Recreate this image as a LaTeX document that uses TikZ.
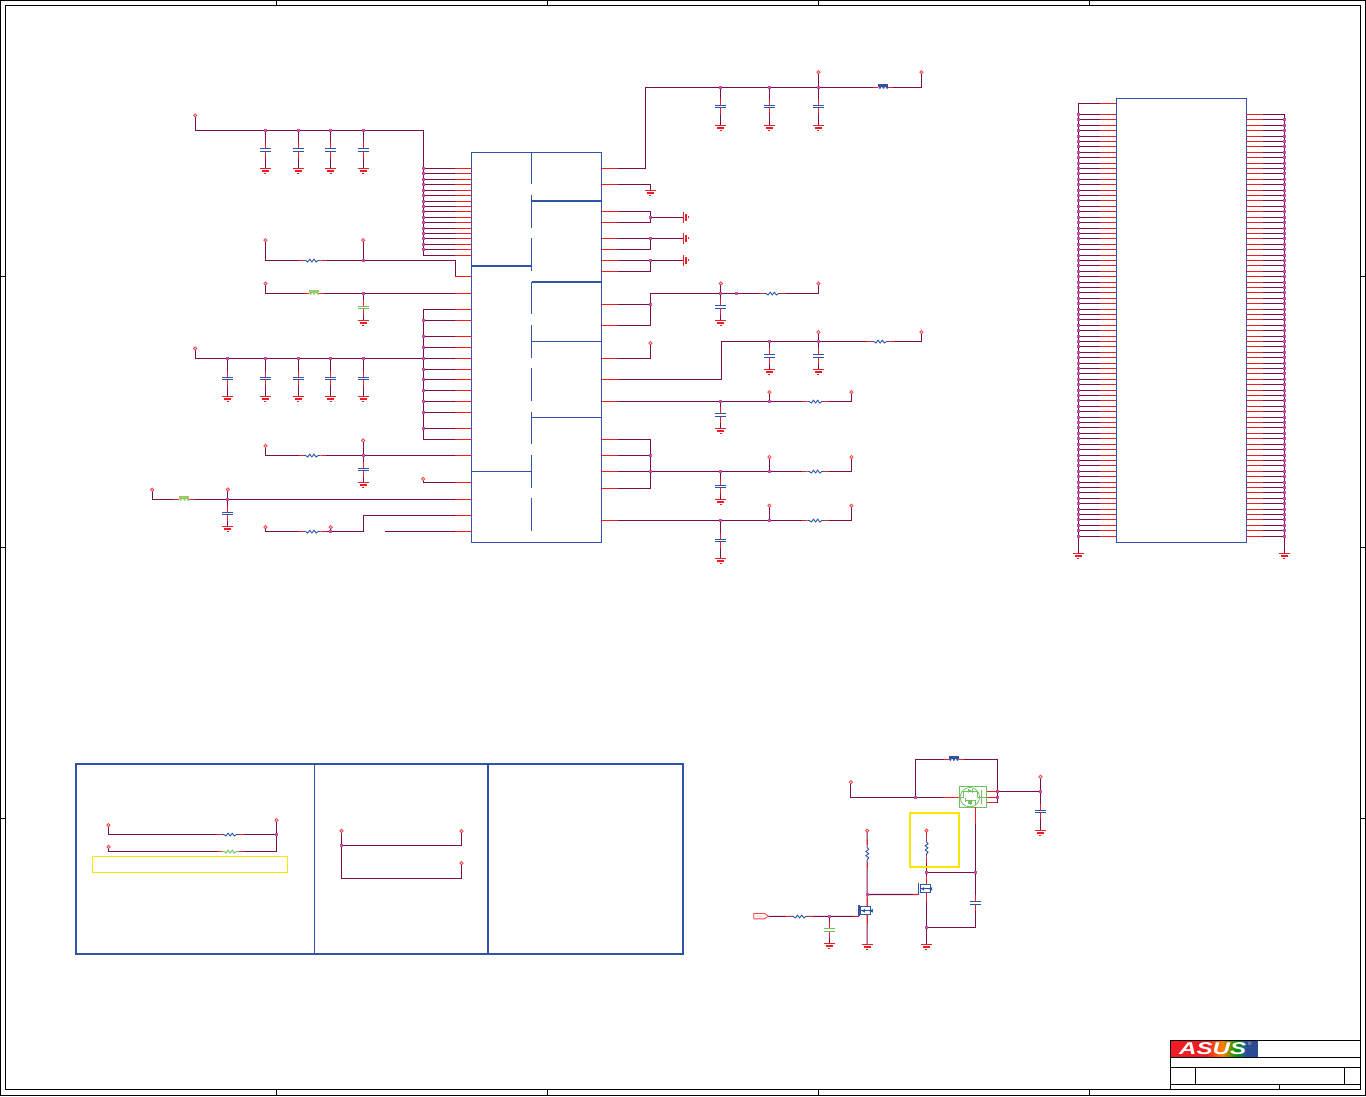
\documentclass[tikz,border=0pt]{standalone}
\usepackage{fontspec}
\setmainfont{Liberation Sans}
\definecolor{wirec}{HTML}{7A1048}
\definecolor{pinc}{HTML}{F01C24}
\definecolor{jctc}{HTML}{C050A8}
\definecolor{icblue}{HTML}{3053A5}
\definecolor{cgreen}{HTML}{70C060}
\definecolor{bgreen}{HTML}{98CC68}
\definecolor{myyellow}{HTML}{F8E800}
\tikzset{
 wire/.style={draw=wirec,line width=1.05pt},
 pinw/.style={draw=pinc,line width=1.2pt},
 comp/.style={inner sep=0pt,outer sep=0pt,minimum size=0pt,shape=rectangle},
 jct/.style={comp,fill=jctc,minimum size=3pt},
 portn/.style={circle,inner sep=0pt,outer sep=0pt,minimum size=3.4pt,draw=pinc!85,fill=pinc!20,line width=.7pt},
 ic/.style={comp,draw=icblue,line width=1pt},
 plate/.style={line width=1.35pt},
 frameline/.style={draw=black,line width=1pt},
 gndbar/.style={draw=pinc},
}
\newif\iffgpass
\newcommand\fgonly[1]{\iffgpass #1\fi}
\newcommand\mkJ[3]{\coordinate (#1) at (#2,#3);\fgonly{\node[jct] (#1-dot) at (#1) {};}}
\newcommand\mkP[3]{\coordinate (#1) at (#2,#3);\fgonly{\node[portn] (#1-dot) at (#1) {};}}
\newcommand\mkG[3]{\node[comp] (#1) at (#2,#3) {};\fgonly{
 \pgfmathsetmacro\gy{floor(#3)+.33}
 \draw[gndbar,line width=1.8pt] (#2-5.5,\gy) -- (#2+5.5,\gy);
 \draw[gndbar,line width=1.35pt] (#2-3.5,\gy+2.4) -- (#2+3.5,\gy+2.4);
 \draw[gndbar,line width=1.3pt] (#2-1,\gy+5) -- (#2+1,\gy+5);}}
\newcommand\mkGr[3]{\node[comp] (#1) at (#2,#3) {};\fgonly{
 \pgfmathsetmacro\gx{floor(#2)+.33}
 \draw[gndbar,line width=1.8pt] (\gx,#3-5.5) -- (\gx,#3+5.5);
 \draw[gndbar,line width=1.35pt] (\gx+2.6,#3-3.5) -- (\gx+2.6,#3+3.5);
 \draw[gndbar,line width=1.3pt] (\gx+5,#3-1) -- (\gx+5,#3+1);}}
% horizontal resistor: name x y colour
\newcommand\mkR[4]{\node[comp,minimum width=17pt] (#1) at (#2,#3) {};\fgonly{
 \draw[pinw] (#1.west) -- ++(-5,0) (#1.east) -- ++(5,0);
 \draw[#4,line width=.9pt,line join=round] (#1.west) -- ++(2,0) -- ++(2,1.6) -- ++(2.1,-3) -- ++(2.1,3) -- ++(2.1,-3) -- ++(2.1,3) -- ++(2.1,-1.6) -- (#1.east);}}
\newcommand\mkRv[4]{\node[comp,minimum height=17pt] (#1) at (#2,#3) {};\fgonly{
 \draw[pinw] (#1.north) -- ++(0,-6) (#1.south) -- ++(0,6);
 \draw[#4,line width=.9pt,line join=round] (#1.north) -- ++(0,2) -- ++(1.6,2) -- ++(-3,2.1) -- ++(3,2.1) -- ++(-3,2.1) -- ++(3,2.1) -- ++(-1.6,2.1) -- (#1.south);}}
% bead: name x y colour
\newcommand\mkB[4]{\node[comp,minimum width=10pt] (#1) at (#2,#3) {};\fgonly{
 \draw[pinw] (#1.west) -- ++(-5,0) (#1.east) -- ++(5,0);
 \fill[#4] (#2-5,#3-3) rectangle (#2+5,#3-.8);
 \foreach \d in {-3.6,0,3.6}{\fill[#4] (#2+\d,#3+.2) circle (1.3pt);}
 }}
% capacitor: name x y colour
\newcommand\mkC[4]{\node[comp,minimum width=11pt,minimum height=3pt] (#1) at (#2,#3) {};\fgonly{
 \pgfmathsetmacro\ct{round(#3-1.5)+.33}
 \pgfmathsetmacro\cb{round(#3+1)+.33}
 \draw[pinw] (#2,\ct) -- ++(0,-7) (#2,\cb) -- ++(0,6.5);
 \draw[#4,plate] (#2-5.5,\ct) -- (#2+5.5,\ct) (#2-5.5,\cb) -- (#2+5.5,\cb);}}
% capacitor to ground: name, from, x, ycentre, yground, colour
\newcommand\capgnd[6]{\mkC{#1}{#3}{#4}{#6}\mkG{#1g}{#3}{#5}\draw[wire] (#2) -- (#1.north) (#1.south) -- (#1g.center);}
\newcommand\mkPL[2]{\coordinate (#1) at (471.5,#2);\fgonly{\draw[pinw] (#1) -- ++(-16.5,0);}}
\newcommand\mkPR[2]{\coordinate (#1) at (601.3,#2);\fgonly{\draw[pinw] (#1) -- ++(16.5,0);}}
% MOSFET: name, x of gate bar, y of middle
\newcommand\mkQ[3]{\node[comp] (#1) at (#2,#3) {};\coordinate (#1g) at (#2,#3+5.6);\coordinate (#1d) at (#2+8.3,#3-4);\coordinate (#1s) at (#2+8.3,#3+4);
 \fgonly{
 \draw[pinw] (#1g) -- ++(-5,0) (#1d) -- ++(0,-9) (#1s) -- ++(0,9);
 \draw[icblue,line width=1.3pt] (#2,#3-5.5) -- (#2,#3+5.7);
 \draw[icblue,line width=.9pt] (#2+2,#3-4.6) -- (#2+2,#3+4.6);
 \draw[icblue,line width=.9pt] (#2+2,#3-4) -- (#2+12,#3-4) -- (#2+12,#3+4) -- (#2+2,#3+4) (#2+2,#3) -- (#2+12,#3);
 \fill[icblue] (#2+3,#3) -- (#2+6,#3-1.8) -- (#2+6,#3+1.8) -- cycle;
 \fill[icblue] (#2+10,#3) -- (#2+14,#3-1.8) -- (#2+14,#3+1.8) -- cycle;
 }}
\newcommand\schematic{%
% frame, title block, logo, IC bodies
\fgonly{
\node[comp,frameline,draw,minimum width=1365pt,minimum height=1095pt] (outerframe) at (683,548) {};
\node[comp,frameline,draw,minimum width=1355.4pt,minimum height=1083.8pt] (innerframe) at (683,547.4) {};
\foreach \x in {276,547,818,1089}{\draw[frameline] (\x,.5) -- (\x,5.5) (\x,1089.3) -- (\x,1095.5);}
\foreach \y in {276,547,818}{\draw[frameline] (.5,\y) -- (5.5,\y) (1360.7,\y) -- (1365.5,\y);}
\fill[pinc] (1170.8,1040.8) rectangle (1206,1056.8);
\shade[left color=pinc,right color=orange] (1206,1040.8) rectangle (1222,1056.8);
\shade[left color=orange,right color=green!60!black] (1222,1040.8) rectangle (1236,1056.8);
\shade[left color=green!60!black,right color=icblue] (1236,1040.8) rectangle (1246,1056.8);
\fill[icblue!90!black] (1246,1040.8) rectangle (1258.3,1056.8);
\node[comp,text=white,font=\bfseries\itshape\fontsize{17}{17}\selectfont,xscale=1.42] (logo) at (1212.5,1048.6) {ASUS};
\node[comp,text=white!85!black,font=\fontsize{5}{5}\selectfont] (logor) at (1249.5,1044) {®};
\node[comp,frameline,draw,minimum width=190.4pt,minimum height=49pt] (title) at (1265.5,1064.8) {};
\draw[frameline] (1170.3,1057.3) -- (1360.7,1057.3) (1170.3,1067.3) -- (1360.7,1067.3) (1170.3,1084.3) -- (1360.7,1084.3);
\draw[frameline] (1195.7,1067.3) -- (1195.7,1084.3) (1344.3,1067.3) -- (1344.3,1084.3) (1279.3,1084.3) -- (1279.3,1089.3);
\node[ic,minimum width=129.8pt,minimum height=390pt] (U) at (536.4,347.3) {};
\draw[icblue,line width=1pt] (531.4,151.7) -- (531.4,184.3) (531.4,195) -- (531.4,227.7) (531.4,238.3) -- (531.4,271) (531.4,281.7) -- (531.4,314.3) (531.4,325) -- (531.4,357.7) (531.4,368.3) -- (531.4,401) (531.4,411.7) -- (531.4,444.3) (531.4,455) -- (531.4,487.7) (531.4,498.3) -- (531.4,531);
\draw[icblue,line width=2pt] (531.4,201) -- (601.3,201) (531.4,282) -- (601.3,282) (471.5,266) -- (531.4,266);
\draw[icblue,line width=1pt] (531.4,341.3) -- (601.3,341.3) (531.4,417.3) -- (601.3,417.3) (471.5,471.3) -- (531.4,471.3);
\node[ic,minimum width=130pt,minimum height=443.8pt] (CN) at (1181.3,320.2) {};
\node[comp,draw=icblue,line width=2pt,minimum width=607pt,minimum height=190pt] (tbl) at (379.5,859) {};
\draw[icblue,line width=1pt] (314.3,764) -- (314.3,954);
\draw[icblue,line width=2pt] (488,764) -- (488,954);
\node[comp,draw=myyellow,line width=1pt,minimum width=195.4pt,minimum height=16pt] (ybox1) at (190,864.3) {};
\node[comp,draw=myyellow,line width=2pt,minimum width=49pt,minimum height=54.6pt] (ybox2) at (934.8,840) {};
}

% left bus A
\mkP{pA}{195}{115.3}
\coordinate (bA) at (423,130.3);
\coordinate (bAe) at (423,255.3);
\draw[wire] (pA) |- (bA) -- (bAe);
\foreach \x [count=\i] in {265.3,298,330.5,363}{\mkJ{jA\i}{\x}{130.3}\capgnd{cA\i}{jA\i}{\x}{149.8}{168.4}{icblue}}
\foreach \y [count=\i] in {168.3,173.3,179.3,184.3,190.3,195.3,201.3,206.3,211.3,217.3,222.3,228.3,233.3,238.3,244.3,249.3}{\mkPL{lA\i}{\y}\mkJ{ljA\i}{423}{\y}\draw[wire] (ljA\i) -- (lA\i);}
\mkPL{lAe}{255.3}\draw[wire] (bAe) -- (lAe);

% R1 + pin 276
\mkP{pR1}{265.3}{240}\mkP{pR1b}{363}{240}\mkR{R1}{312}{260.3}{icblue}\mkJ{jR1}{363}{260.3}
\mkPL{lR1}{276.3}\coordinate (kR1) at (455,260.3);
\draw[wire] (pR1) |- (R1.west) (R1.east) -- (jR1) -- (kR1) |- (lR1) (pR1b) -- (jR1);

% bead pin 293
\mkP{pB1}{265.3}{283.3}\mkB{B1}{314}{293.3}{bgreen}\mkJ{jB1}{363}{293.3}\mkPL{lB1}{293.3}
\draw[wire] (pB1) |- (B1.west) (B1.east) -- (jB1) -- (lB1);
\capgnd{cB1}{jB1}{363}{307}{320}{cgreen}

% left bus B
\coordinate (bBt) at (423,309.3);\coordinate (bBe) at (423,439.3);
\draw[wire] (bBt) -- (bBe);
\mkPL{lBt}{309.3}\mkPL{lBe}{439.3}\draw[wire] (bBt) -- (lBt) (bBe) -- (lBe);
\foreach \y [count=\i] in {320.3,336.3,347.3,358.3,369.3,379.3,390.3,401.3,412.3,428.3}{\mkPL{lB\i}{\y}\mkJ{ljB\i}{423}{\y}\draw[wire] (ljB\i) -- (lB\i);}
\mkP{pC}{195}{348.3}
\draw[wire] (pC) |- (ljB4);
\foreach \x [count=\i] in {227.7,265.3,298,330.5,363}{\mkJ{jC\i}{\x}{358.3}\capgnd{cC\i}{jC\i}{\x}{378.2}{396.7}{icblue}}

% R2 pin 455
\mkP{pR2}{265.3}{445.7}\mkP{pR2b}{363}{440.3}\mkR{R2}{312}{455.3}{icblue}\mkJ{jR2}{363}{455.3}\mkPL{lR2}{455.3}
\draw[wire] (pR2) |- (R2.west) (R2.east) -- (jR2) -- (lR2) (pR2b) -- (jR2);
\capgnd{cR2}{jR2}{363}{469.3}{482.7}{icblue}

% pin 482
\mkP{pD}{423}{478.7}\mkPL{lD}{482.3}\draw[wire] (pD) |- (lD);

% bead pin 499
\mkP{pB2}{152}{489.5}\mkB{B2}{184.3}{499.3}{bgreen}\mkP{pB2b}{227.7}{489.3}\mkJ{jB2}{227.7}{499.3}\mkPL{lB2}{499.3}
\draw[wire] (pB2) |- (B2.west) (B2.east) -- (jB2) -- (lB2) (pB2b) -- (jB2);
\capgnd{cB2}{jB2}{227.7}{513}{526.7}{icblue}

% R3 pin 515 / 531
\mkP{pR3}{265.3}{527}\mkR{R3}{312}{531.3}{icblue}\mkP{pR3b}{330.5}{527}\mkJ{jR3}{330.5}{531.3}
\coordinate (kR3) at (363.3,531.3);\mkPL{lR3}{515.3}\mkPL{lR4}{531.3}\coordinate (nR4) at (385,531.3);
\draw[wire] (pR3) |- (R3.west) (R3.east) -- (jR3) -- (kR3) |- (lR3) (pR3b) -- (jR3) (nR4) -- (lR4);

% right side: top rail
\mkPR{rT}{168.3}\coordinate (kT) at (645.3,87.3);\mkB{BT}{883.3}{87.3}{icblue}\mkP{pT}{921.3}{72}\mkP{pTb}{818.3}{72}
\draw[wire] (rT) -| (kT) -- (BT.west) (BT.east) -| (pT);
\foreach \x [count=\i] in {720.7,769.3,818.3}{\mkJ{jT\i}{\x}{87.3}\capgnd{cT\i}{jT\i}{\x}{106.3}{125.3}{icblue}}
\draw[wire] (pTb) -- (jT3);

% pin 184
\mkPR{rG}{184.3}\mkG{gG}{650.3}{190.3}\draw[wire] (rG) -| (gG.center);
% side grounds
\mkPR{rS1a}{211.3}\mkPR{rS1b}{222.3}\mkJ{jS1}{650.3}{217}\mkGr{gS1}{683.3}{217}
\draw[wire] (rS1a) -| (jS1) (rS1b) -| (jS1) (jS1) -- (gS1.center);
\mkPR{rS2a}{238.3}\mkPR{rS2b}{249.3}\mkJ{jS2}{650.3}{238.3}\mkGr{gS2}{683.3}{238.3}
\draw[wire] (rS2a) -- (jS2) -- (gS2.center) (rS2b) -| (jS2);
\mkPR{rS3a}{260.3}\mkPR{rS3b}{271.3}\mkJ{jS3}{650.3}{260.3}\mkGr{gS3}{683.3}{260.3}
\draw[wire] (rS3a) -- (jS3) -- (gS3.center) (rS3b) -| (jS3);

% 293 rail
\mkPR{rM1}{304.3}\mkPR{rM2}{325.3}\mkJ{jM}{650.3}{304.3}\coordinate (kM) at (650.3,293.3);
\mkJ{jM1}{720.7}{293.3}\mkJ{jM2}{736.7}{293.3}\mkP{pM1}{720.7}{283.3}\mkP{pM2}{818.3}{283.3}\mkR{RM}{772.4}{293.3}{icblue}
\draw[wire] (rM1) -- (jM) (rM2) -| (kM) -- (jM1) -- (jM2) -- (RM.west) (RM.east) -| (pM2) (pM1) -- (jM1);
\capgnd{cM}{jM1}{720.7}{306.8}{320.3}{icblue}

% pin 358
\mkPR{rN}{358.3}\mkP{pN}{650.3}{343}\draw[wire] (rN) -| (pN);

% pin 379, rail 341
\mkPR{rO}{379.3}\coordinate (kO) at (721.3,341.3);\mkR{RO}{880.3}{341.3}{icblue}\mkP{pO1}{921.3}{332}\mkP{pO2}{818.3}{332}
\draw[wire] (rO) -| (kO) -- (RO.west) (RO.east) -| (pO1);
\foreach \x [count=\i] in {769.3,818.3}{\mkJ{jO\i}{\x}{341.3}\capgnd{cO\i}{jO\i}{\x}{355.9}{369.3}{icblue}}
\draw[wire] (pO2) -- (jO2);

% pin 401
\mkPR{rP}{401.3}\mkJ{jP1}{720.7}{401.3}\mkJ{jP2}{769.3}{401.3}\mkP{pP1}{769.3}{392}\mkP{pP2}{851.3}{392}\mkR{RP}{815.7}{401.3}{icblue}
\draw[wire] (rP) -- (jP1) -- (jP2) -- (RP.west) (RP.east) -| (pP2) (pP1) -- (jP2);
\capgnd{cP}{jP1}{720.7}{414.9}{428.7}{icblue}

% pins 439..488
\coordinate (kQa) at (650.3,439.3);\coordinate (kQb) at (650.3,488.3);
\mkPR{rQ1}{439.3}\mkPR{rQ2}{455.3}\mkPR{rQ3}{471.3}\mkPR{rQ4}{488.3}
\mkJ{jQ2}{650.3}{455.3}\mkJ{jQ3}{650.3}{471.3}\mkJ{jQ4}{720.7}{471.3}\mkJ{jQ5}{769.3}{471.3}
\mkP{pQ1}{769.3}{457}\mkP{pQ2}{851.3}{457}\mkR{RQ}{815.7}{471.3}{icblue}
\draw[wire] (rQ1) -- (kQa) -- (kQb) -- (rQ4) (rQ2) -- (jQ2) (rQ3) -- (jQ3) -- (jQ4) -- (jQ5) -- (RQ.west) (RQ.east) -| (pQ2) (pQ1) -- (jQ5);
\capgnd{cQ}{jQ4}{720.7}{486.2}{499.3}{icblue}

% pin 520
\mkPR{rV}{520.3}\mkJ{jV1}{720.7}{520.3}\mkJ{jV2}{769.3}{520.3}\mkP{pV1}{769.3}{505.5}\mkP{pV2}{851.3}{505.5}\mkR{RV}{815.7}{520.3}{icblue}
\draw[wire] (rV) -- (jV1) -- (jV2) -- (RV.west) (RV.east) -| (pV2) (pV1) -- (jV2);
\capgnd{cV}{jV1}{720.7}{540}{558.7}{icblue}

% connector
\mkG{gCL}{1078.3}{553.3}\mkG{gCR}{1284.3}{553.3}
\coordinate (cnLt) at (1078.3,103.3);\coordinate (cnP0) at (1116.3,103.3);\coordinate (cnRt) at (1284.3,114.3);
\draw[wire] (cnP0) -- (cnLt) -- (gCL.center) (cnRt) -- (gCR.center);
\fgonly{\draw[pinw] (cnP0) -- ++(-16,0);}
\foreach \k in {0,...,78}{
 \pgfmathsetmacro\yy{round(114+5.405*\k)+.3}
 \coordinate (cnLp\k) at (1116.3,\yy);\coordinate (cnRp\k) at (1246.3,\yy);
 \mkJ{cnLj\k}{1078.3}{\yy}
 \ifnum\k>0 \mkJ{cnRj\k}{1284.3}{\yy}\else \coordinate (cnRj\k) at (1284.3,\yy);\fi
 \draw[wire,line width=1pt] (cnLj\k) -- (cnLp\k) (cnRj\k) -- (cnRp\k);
 \fgonly{\draw[pinw,line width=1.15pt] (cnLp\k) -- ++(-16,0) (cnRp\k) -- ++(16.5,0);}
}

% bottom table wiring
\mkP{pW1}{108.3}{825}\mkP{pW2}{108.3}{846.7}\mkP{pW3}{276.3}{820}\mkJ{jW}{276.3}{834.3}\coordinate (kW) at (276.3,851.3);
\mkR{RW1}{230.3}{834.3}{icblue}\mkR{RW2}{230.3}{851.3}{cgreen}
\draw[wire] (pW1) |- (RW1.west) (RW1.east) -- (jW) (pW3) -- (jW) -- (kW) -- (RW2.east) (RW2.west) -| (pW2);
\mkP{pX1}{341.3}{830.7}\mkJ{jX}{341.3}{845.3}\mkP{pX2}{461.3}{831}\mkP{pX3}{461.3}{863}\coordinate (kX) at (341.3,878.3);
\draw[wire] (pX1) -- (jX) -- (kX) -| (pX3) (jX) -| (pX2);

% power switch
\fgonly{
\node[comp,draw=cgreen,line width=1pt,minimum width=27.4pt,minimum height=21pt] (F) at (973,796.8) {};
\node[comp,draw=cgreen,circle,line width=.8pt,minimum size=19.4pt] (Fc) at (969.7,797) {};
\draw[cgreen,line width=.8pt] (960.5,797.5) -- (963,797.5) -- (963,791.5) -- (977,791.5) -- (977,797.5) -- (981,797.5)
 (965,800) -- (975,800) -- (975,805) (965,797.5) -- (965,802) (981,790) -- (981,803.5) (981,797) -- (986.7,797) (970,800) -- (970,805);
\fill[cgreen] (968,788.8) -- (971.5,790.6) -- (968,792.4) -- cycle;
\fill[cgreen] (971.5,788.8) rectangle (972.3,792.4);
\fill[cgreen] (968.2,801) rectangle (971.8,804);
}
\mkP{pY}{850.7}{782}\mkJ{jY1}{915.7}{797.3}\coordinate (kY1) at (915.7,759.3);\coordinate (kY2) at (997.3,759.3);
\mkJ{jY2}{997.3}{791.7}\mkJ{jY3}{997.3}{797}\coordinate (kY3) at (997.3,802.3);\mkB{BY}{953.7}{759.3}{icblue}
\coordinate (fI) at (959.3,797.3);\coordinate (fO1) at (986.7,791.7);\coordinate (fO2) at (986.7,797);\coordinate (fO3) at (986.7,802.3);
\mkJ{jY4}{1040.3}{791.7}\mkP{pY2}{1040.3}{776.7}
\draw[wire] (pY) |- (jY1) -- (fI) (jY1) -- (kY1) -- (BY.west) (BY.east) -- (kY2) -- (kY3) -- (fO3) (fO1) -- (jY4) (fO2) -- (jY3) (pY2) -- (jY4);
\fgonly{\draw[pinw] (fI) -- ++(-16,0) (fO1) -- (jY2) (fO2) -- (jY3) (fO3) -- (kY3);}
\capgnd{cY}{jY4}{1040.3}{811}{830}{icblue}
% Q2
\mkP{pZ}{926.3}{830.3}\mkRv{RZ}{926.3}{848}{icblue}\mkJ{jZ}{926.3}{872.3}\mkJ{jZ2}{975.3}{872.3}\mkJ{jZ3}{926.3}{927.3}
\mkQ{Q2}{918}{888.7}\mkG{gZ}{926.3}{944}
\coordinate (fD) at (975.3,807.3);\coordinate (kZ) at (975.3,927.3);\mkC{cZ}{975.3}{902.7}{icblue}
\draw[wire] (pZ) -- (RZ.north) (RZ.south) -- (jZ) -- (Q2d) (Q2s) -- (jZ3) -- (gZ.center) (fD) -- (jZ2) -- (cZ.north) (cZ.south) -- (kZ) -- (jZ3) (jZ) -- (jZ2);
\fgonly{\draw[pinw] (fD) -- ++(0,16.7);}
% Q1
\mkP{pU}{867}{830.5}\mkRv{RU}{867}{853.7}{icblue}\mkJ{jU}{867}{894.3}\mkQ{Q1}{858.7}{910.6}\mkG{gU}{867}{944}
\mkR{RG}{799.7}{916.2}{icblue}\mkJ{jG}{829}{916.2}
\fgonly{\node[comp,draw=pinc!80,fill=pinc!8,line width=.8pt,shape=rectangle,minimum width=0pt] (src) at (753.5,916) {};
\draw[draw=pinc!80,fill=pinc!8,line width=.8pt] (753.5,913.3) -- (764.5,913.3) -- (768.3,916) -- (764.5,918.7) -- (753.5,918.7) -- cycle;}
\coordinate (srcO) at (768.3,916.2);
\draw[wire] (pU) -- (RU.north) (RU.south) -- (jU) -- (Q1d) (Q1s) -- (gU.center) (jU) -- (Q2g) (srcO) -- (RG.west) (RG.east) -- (jG) -- (Q1g);
\capgnd{cG}{jG}{829}{929.8}{943.3}{cgreen}
}
\begin{document}
\begin{tikzpicture}[x=1pt,y=-1pt]
\useasboundingbox (0,0) rectangle (1366,1096);
\begin{scope}[shift={(.17,.17)}]
\fgpassfalse
\schematic
\tikzset{wire/.style={draw=none}}
\fgpasstrue
\schematic
\end{scope}
\end{tikzpicture}
\end{document}
